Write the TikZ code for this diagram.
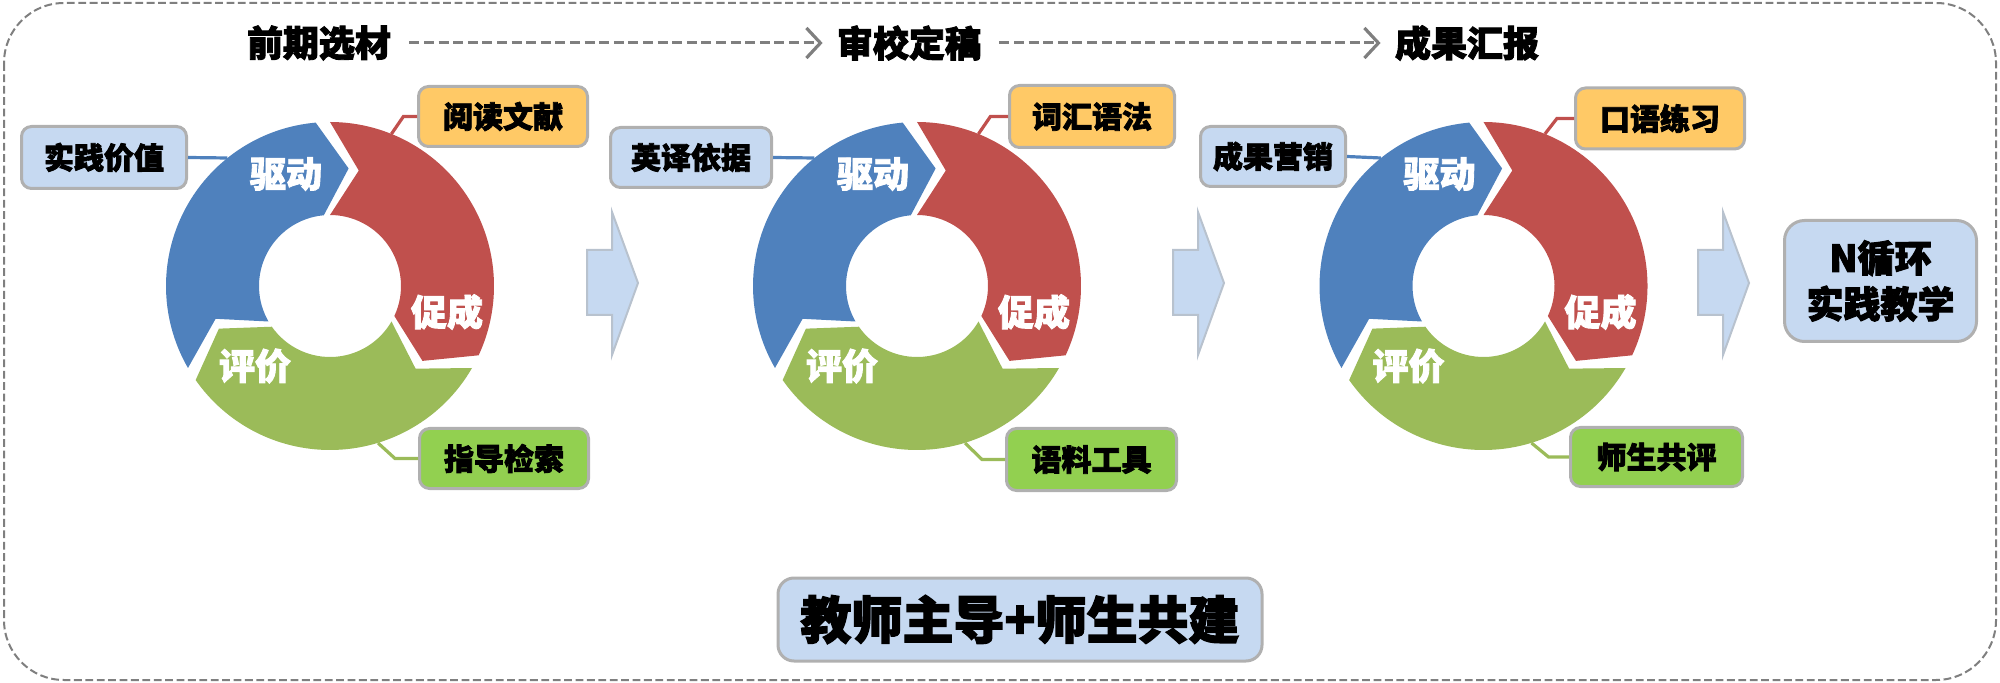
\documentclass[tikz,border=0pt]{standalone}
\usepackage{fontspec}
\setmainfont{Noto Sans CJK SC}[BoldFeatures={FakeBold=2.5}]
\usetikzlibrary{arrows.meta,calc}
\definecolor{cblue}{HTML}{4F81BD}
\definecolor{cred}{HTML}{C0504D}
\definecolor{cgreen}{HTML}{9BBB59}
\definecolor{fblue}{HTML}{C6D9F1}
\definecolor{forange}{HTML}{FFC966}
\definecolor{fgreen}{HTML}{92D050}
\definecolor{bgray}{HTML}{B0B0B0}
\definecolor{dgray}{HTML}{7F7F7F}
\definecolor{agray}{HTML}{B8C2CE}
\tikzset{
  lbox/.style={rounded corners=5pt, draw=bgray, line width=1.5pt, inner sep=0pt,
    font=\bfseries\fontsize{15}{18}\selectfont, text=black},
  ringlabel/.style={inner sep=0pt, text=white, font=\bfseries\fontsize{18}{20}\selectfont},
  titletext/.style={inner sep=0pt, font=\bfseries\fontsize{18}{20}\selectfont},
  titlearrow/.style={draw=dgray, line width=1.5pt, dash pattern=on 5pt off 2.3pt,
    -{Straight Barb[length=7pt,width=15pt,line width=1.6pt]}, shorten <=9pt, shorten >=7pt},
  conn/.style={line width=1.6pt},
  blockarrow/.style={fill=fblue, draw=agray, line width=1pt, line join=miter},
}
\newcommand\ringsegment[3]{%
  \fill[#3] (#1:164) arc[start angle=#1, end angle=#2, radius=164]
    -- ({#2-14}:119) -- (#2:71) arc[start angle=#2, end angle=#1, radius=71]
    -- ({#1-14}:119) -- cycle;}
\newcommand\cyclering[2]{%
  \begin{scope}[shift={(#1,286)}, yscale=-1]
    \ringsegment{210}{95}{cblue}
    \ringsegment{90}{-25}{cred}
    \ringsegment{-30}{-145}{cgreen}
  \end{scope}
  \node[ringlabel] (#2drive) at ({#1-44},174) {驱动};
  \node[ringlabel] (#2prom) at ({#1+117},312) {促成};
  \node[ringlabel] (#2eval) at ({#1-75},366) {评价};
  \coordinate (#2pb) at ({#1-102.6},158);
  \coordinate (#2pr) at ({#1+61.4},134);
  \coordinate (#2pg) at ({#1+48},443);
}
\newcommand\blockarr[1]{%
  \draw[blockarrow] (#1,250) -- ({#1+25},250) -- ({#1+25},212) -- ({#1+51},283)
    -- ({#1+25},355) -- ({#1+25},315) -- (#1,315) -- cycle;}
\begin{document}
\begin{tikzpicture}[x=0.5pt,y=-0.5pt]
\useasboundingbox (0,0) rectangle (2000,683);
% outer dashed frame
\draw[dgray, line width=1pt, dash pattern=on 3.9pt off 1.8pt, rounded corners=30pt]
  (4,3) rectangle (1996,680);

% titles
\node[titletext] (t1) at (319,43) {前期选材};
\node[titletext] (t2) at (909,43) {审校定稿};
\node[titletext] (t3) at (1467,43) {成果汇报};
\draw[titlearrow] (t1.east) -- (t2.west);
\draw[titlearrow] (t2.east) -- (t3.west);

% rings
\cyclering{330}{ra}
\cyclering{917}{rb}
\cyclering{1483.5}{rc}

% label boxes ring a
\node[lbox, fill=fblue, minimum width=82.5pt, minimum height=31pt] (la) at (104,157.5) {实践价值};
\node[lbox, fill=forange, minimum width=84.5pt, minimum height=30pt] (oa) at (503,116.5) {阅读文献};
\node[lbox, fill=fgreen, minimum width=84.5pt, minimum height=30pt] (ga) at (504,458.5) {指导检索};
% ring b
\node[lbox, fill=fblue, minimum width=80.5pt, minimum height=30pt] (lb) at (691,157.5) {英译依据};
\node[lbox, fill=forange, minimum width=82.5pt, minimum height=31pt] (ob) at (1092,116.5) {词汇语法};
\node[lbox, fill=fgreen, minimum width=85pt, minimum height=31pt] (gb) at (1091.5,459.5) {语料工具};
% ring c
\node[lbox, fill=fblue, minimum width=72.5pt, minimum height=30pt] (lc) at (1273,156.5) {成果营销};
\node[lbox, fill=forange, minimum width=84.5pt, minimum height=30.5pt] (oc) at (1660,118.5) {口语练习};
\node[lbox, fill=fgreen, minimum width=86pt, minimum height=29.5pt] (gc) at (1656.5,457) {师生共评};

% connectors
\foreach \r/\l/\o/\g in {ra/la/oa/ga, rb/lb/ob/gb, rc/lc/oc/gc}{
  \draw[cblue, conn] (\l.east) -- (\r pb);
  \draw[cred, conn] (\o.west) -- ($(\r pr |- \o.west)+(12,0)$) -- (\r pr);
  \draw[cgreen, conn] (\g.west) -- ($(\r pg |- \g.west)+(17,0)$) -- (\r pg);
}

% block arrows
\blockarr{587}
\blockarr{1173}
\blockarr{1698}

% result box
\node[lbox, fill=fblue, rounded corners=10pt, minimum width=96pt, minimum height=60.5pt,
  align=center, font=\bfseries\fontsize{18.5}{23}\selectfont] (nb) at (1880.5,281) {N循环\\实践教学};

% bottom box
\node[lbox, fill=fblue, rounded corners=8pt, minimum width=242pt, minimum height=41.5pt,
  font=\bfseries\fontsize{25.5}{28}\selectfont] (bb) at (1020,619.5) {教师主导+师生共建};
\end{tikzpicture}
\end{document}
